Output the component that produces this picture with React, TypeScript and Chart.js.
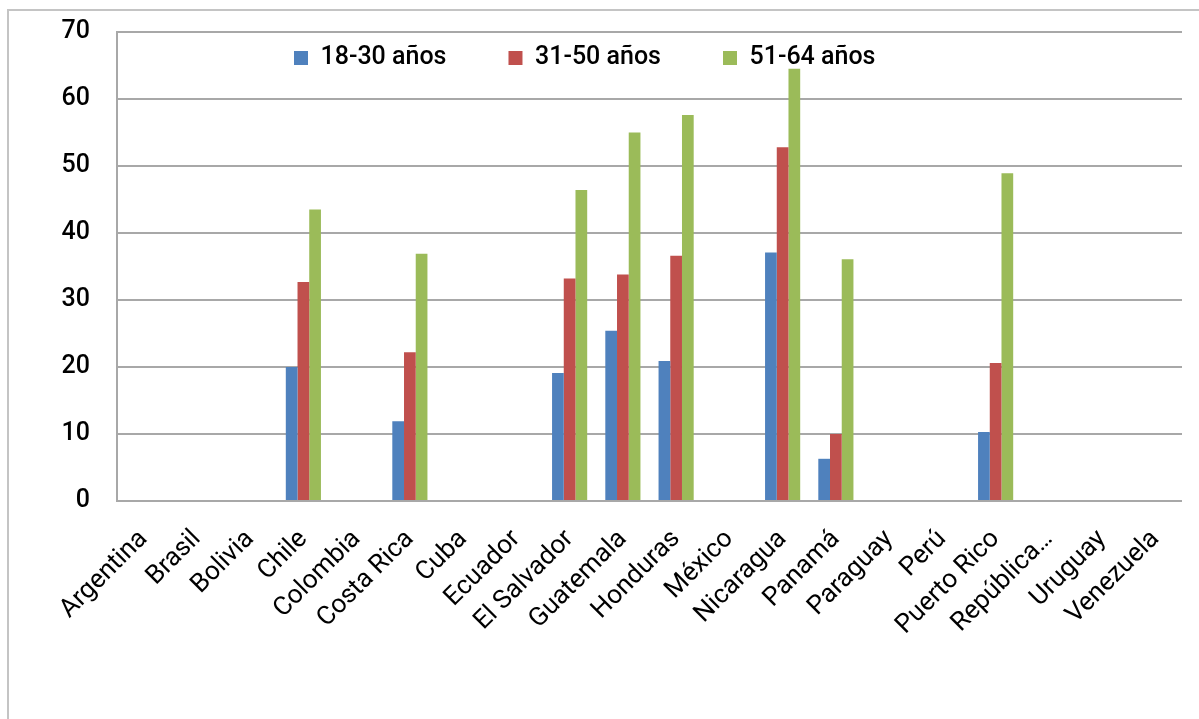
import React, { useEffect, useRef } from 'react';
import { Chart, registerables } from 'chart.js';

Chart.register(...registerables);

const categories = [
  'Argentina', 'Brasil', 'Bolivia', 'Chile', 'Colombia', 'Costa Rica', 'Cuba', 'Ecuador',
  'El Salvador', 'Guatemala', 'Honduras', 'México', 'Nicaragua', 'Panamá', 'Paraguay',
  'Perú', 'Puerto Rico', 'República…', 'Uruguay', 'Venezuela',
];

const seriesLabels = ['18-30 años', '31-50 años', '51-64 años'];

const age18to30 = [null, null, null, 20.0, null, 11.9, null, null, 19.1, 25.4, 20.9, null, 37.1, 6.3, null, null, 10.3, null, null, null];
const age31to50 = [null, null, null, 32.7, null, 22.2, null, null, 33.2, 33.8, 36.6, null, 52.8, 10.0, null, null, 20.6, null, null, null];
const age51to64 = [null, null, null, 43.5, null, 36.9, null, null, 46.4, 55.0, 57.6, null, 64.5, 36.1, null, null, 48.9, null, null, null];

const yMin = 0;
const yMax = 70;
const yStep = 10;

const colors = ['#4F81BD', '#C0504D', '#9BBB59'];

const LEGEND_PAD = 62;
const LEGEND_FONT = 25;

const legendOverlay = {
  id: 'legendOverlay',
  beforeLayout(chart: any) {
    const l = chart.legend;
    if (!l || l._patched) return;
    const origFit = l.fit.bind(l);
    l.fit = function () {
      origFit();
      this.height = 0;
    };
    l._patched = true;
  },
  afterLayout(chart: any) {
    const l = chart.legend;
    if (!l) return;
    l.left = 294 - LEGEND_PAD;
    l.top = 58 - LEGEND_PAD - LEGEND_FONT / 2;
    l.bottom = 100;
    l.right = chart.chartArea.right;
  },
};

export default function App() {
  const ref = useRef<HTMLCanvasElement | null>(null);

  useEffect(() => {
    if (!ref.current) return;
    const font = 'Roboto';
    const chart = new Chart(ref.current, {
      type: 'bar',
      data: {
        labels: categories,
        datasets: [age18to30, age31to50, age51to64].map((d, i) => ({
          label: seriesLabels[i],
          data: d,
          backgroundColor: colors[i],
          borderWidth: 0,
          categoryPercentage: 0.66,
          barPercentage: 1.0,
        })),
      },
      options: {
        animation: false,
        responsive: false,
        devicePixelRatio: 1,
        layout: { padding: { left: 0, right: 17, top: 32, bottom: 0 } },
        plugins: {
          legend: {
            position: 'top',
            align: 'start',
            labels: {
              boxWidth: 14,
              boxHeight: 14,
              padding: LEGEND_PAD,
              color: '#000',
              font: { family: font, size: LEGEND_FONT, weight: '500' },
            },
          },
          tooltip: { enabled: false },
        },
        scales: {
          x: {
            afterFit: (s: any) => { s.height = 218; },
            grid: { display: false },
            border: { display: false },
            ticks: {
              autoSkip: false,
              maxRotation: 45,
              minRotation: 45,
              padding: 15,
              color: '#000',
              font: { family: font, size: 26 },
            },
          },
          y: {
            min: yMin,
            max: yMax,
            afterFit: (s: any) => { s.width = 117; },
            grid: {
              color: '#A8A8A8',
              lineWidth: 2,
              drawTicks: true,
              tickLength: 27,
              tickColor: 'rgba(0,0,0,0)',
            },
            border: { display: true, color: '#A8A8A8', width: 2 },
            ticks: {
              stepSize: yStep,
              padding: 0,
              color: '#000',
              font: { family: font, size: 25, weight: '500' },
            },
          },
        },
      },
      plugins: [legendOverlay],
    });
    return () => chart.destroy();
  }, []);

  return (
    <div style={{ position: 'fixed', left: 0, top: 0, width: 1199, height: 719, overflow: 'hidden', background: '#fff' }}>
      <div style={{ position: 'absolute', left: 7, top: 9, width: 1300, height: 800, borderLeft: '2px solid #C4C4C4', borderTop: '2px solid #C4C4C4' }} />
      <canvas ref={ref} width={1199} height={719} style={{ position: 'absolute', left: 0, top: 0 }} />
    </div>
  );
}
